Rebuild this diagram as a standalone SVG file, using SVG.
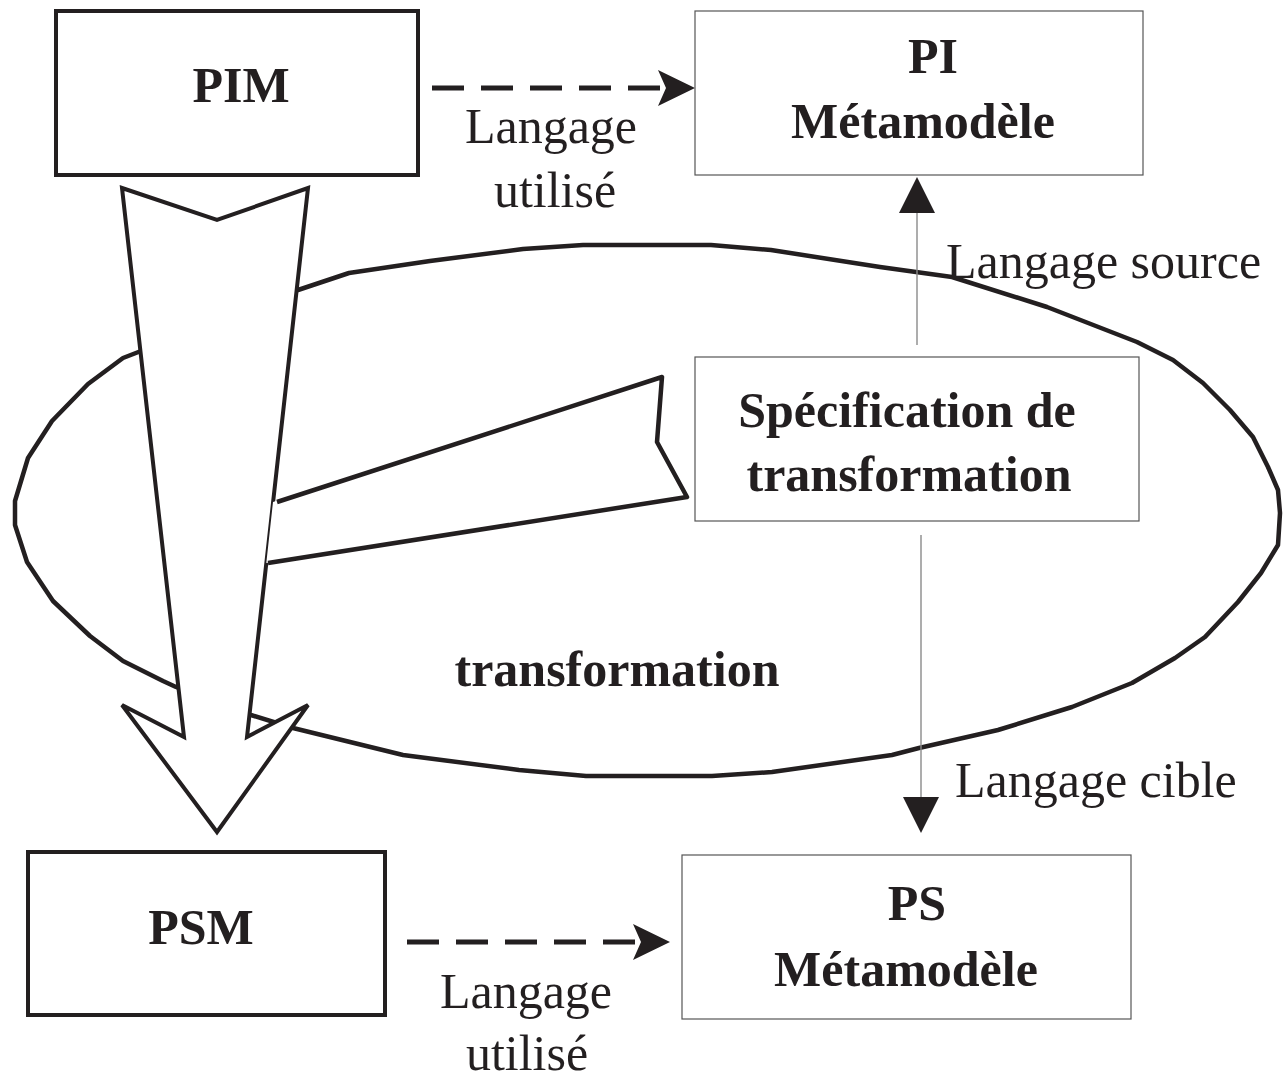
<svg xmlns="http://www.w3.org/2000/svg" width="1283" height="1077" viewBox="0 0 1283 1077">
  <style>
    .bold { font-family: "Liberation Serif", "Times New Roman", serif; font-weight: bold; font-size: 50px; fill: #231f20; text-anchor: middle; }
    .reg { font-family: "Liberation Serif", "Times New Roman", serif; font-size: 50px; fill: #231f20; }
    .mid { text-anchor: middle; }
    .thick { fill: #fff; stroke: #231f20; stroke-width: 4; stroke-linejoin: miter; }
    .thin { fill: #fff; stroke: #555; stroke-width: 1.2; }
    .dash { fill: none; stroke: #231f20; stroke-width: 5; stroke-dasharray: 32 17; }
    .link { fill: none; stroke: #8a8a8a; stroke-width: 1.4; }
    .outline { fill: none; stroke: #231f20; stroke-width: 4.5; stroke-linejoin: round; }
  </style>
  <defs>
    <marker id="head-dash" markerUnits="userSpaceOnUse" viewBox="0 0 37 36" markerWidth="37" markerHeight="36" refX="8" refY="18" orient="auto">
      <path d="M0,0 L37,18 L0,36 L8,18 Z" fill="#231f20"/>
    </marker>
    <marker id="head-solid" markerUnits="userSpaceOnUse" viewBox="0 0 36 36" markerWidth="36" markerHeight="36" refX="0" refY="18" orient="auto">
      <path d="M0,0 L36,18 L0,36 Z" fill="#231f20"/>
    </marker>
  </defs>

  <rect width="1283" height="1077" fill="#fff"/>

  <!-- transformation area: hand-drawn loop -->
  <g id="transformation">
    <polygon class="outline" points="15,501 28,458 52,421 88,384 123,358 298,290 349,273 430,261 523,249 583,245 711,245 771,250 880,267 952,277 1047,307 1137,342 1173,360 1203,383 1230,410 1253,437 1268,467 1278,490 1280,513 1278,545 1261,573 1238,602 1205,637 1175,658 1132,683 1072,707 998,730 919,748 892,755 772,772 712,776 586,776 519,770 403,755 293,728 251,715 176,687 163,681 123,661 90,636 53,601 27,562 15,525"/>
    <text class="bold" x="617" y="686">transformation</text>
  </g>

  <g id="connectors">
    <!-- PIM to PSM block arrow -->
    <polygon class="thick" points="122,188 217,220 308,188 247,737 308,705 217,832 122,705 184,737"/>
    <!-- pointer from the specification to the block arrow -->
    <polygon points="273,502 662,377 657,442 687,497 266.3,563" fill="#fff"/>
    <polyline class="outline" points="277,502 662,377 657,442 687,497 268,563"/>
    <!-- language links -->
    <line class="dash" x1="432" y1="88" x2="666" y2="88" marker-end="url(#head-dash)"/>
    <line class="dash" x1="407" y1="942" x2="641" y2="942" marker-end="url(#head-dash)"/>
    <line class="link" x1="917" y1="345" x2="917" y2="213" marker-end="url(#head-solid)"/>
    <line class="link" x1="921" y1="535" x2="921" y2="797" marker-end="url(#head-solid)"/>
    <text class="reg mid" x="551" y="143">Langage</text>
    <text class="reg mid" x="555" y="207">utilisé</text>
    <text class="reg mid" x="526" y="1008">Langage</text>
    <text class="reg mid" x="527" y="1070">utilisé</text>
    <text class="reg" x="946" y="278">Langage source</text>
    <text class="reg" x="955" y="797">Langage cible</text>
  </g>

  <g id="node-pim">
    <rect class="thick" x="56" y="11" width="362" height="164"/>
    <text class="bold" x="241" y="102">PIM</text>
  </g>

  <g id="node-pi-metamodel">
    <rect class="thin" x="695" y="11" width="448" height="164"/>
    <text class="bold" x="933" y="73">PI</text>
    <text class="bold" x="923" y="138">Métamodèle</text>
  </g>

  <g id="node-specification">
    <rect class="thin" x="695" y="357" width="444" height="164"/>
    <text class="bold" x="907" y="427">Spécification de</text>
    <text class="bold" x="909" y="491">transformation</text>
  </g>

  <g id="node-psm">
    <rect class="thick" x="28" y="852" width="357" height="163"/>
    <text class="bold" x="201" y="944">PSM</text>
  </g>

  <g id="node-ps-metamodel">
    <rect class="thin" x="682" y="855" width="449" height="164"/>
    <text class="bold" x="917" y="920">PS</text>
    <text class="bold" x="906" y="986">Métamodèle</text>
  </g>
</svg>
